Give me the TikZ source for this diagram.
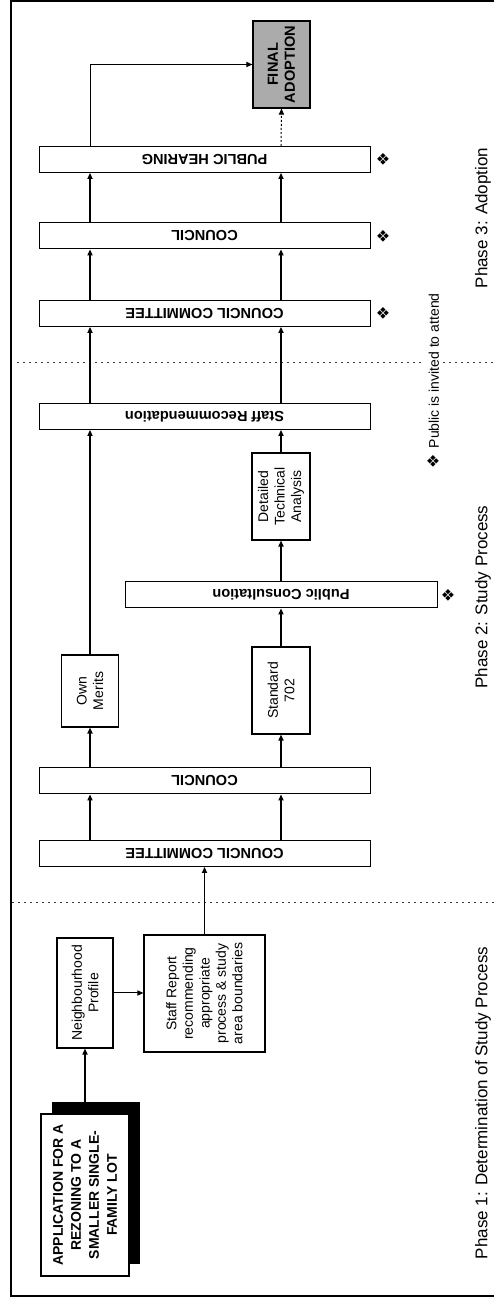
\documentclass[tikz,border=0pt]{standalone}
\usepackage{fontspec}
\setmainfont{Liberation Sans}
\newfontfamily\symfont{DejaVu Sans}
\usetikzlibrary{arrows.meta}
\definecolor{adoptfill}{HTML}{ABABAB}
\definecolor{sepline}{HTML}{3A3A3A}
\tikzset{
  box/.style={draw=black, line width=0.6pt, fill=white, align=center, inner sep=1pt, font=\fontsize{7}{8.25}\selectfont},
  bar/.style={draw=black, line width=0.5pt, fill=white, minimum width=13pt, minimum height=165.5pt, inner sep=0pt},
  barlbl/.style={rotate=90, font=\fontsize{7.3}{8}\selectfont\bfseries, inner sep=0pt},
  appbox/.style={box, minimum width=81pt, minimum height=44pt, font=\fontsize{7}{9}\selectfont\bfseries},
  appshadow/.style={fill=black, minimum width=81pt, minimum height=44pt, inner sep=0pt},
  adoptbox/.style={box, fill=adoptfill, font=\fontsize{7.3}{8.5}\selectfont\bfseries},
  arr/.style={-{Triangle[length=3pt,width=2.6pt]}, line width=0.6pt},
  darr/.style={arr, line width=0.5pt, dash pattern=on 1pt off 1pt},
  phasesep/.style={draw=sepline, line width=0.5pt, dash pattern=on 0.8pt off 2.2pt},
  pageframe/.style={draw=black, line width=0.6pt},
  phaselbl/.style={font=\fontsize{8.5}{10}\selectfont, inner sep=0pt},
  pubmark/.style={font=\symfont\fontsize{8}{8}\selectfont, inner sep=0pt},
  note/.style={font=\fontsize{7}{8}\selectfont, fill=white, inner sep=2pt},
}

\begin{document}
\begin{tikzpicture}[x=0.5pt,y=0.5pt]
  \useasboundingbox (0,0) rectangle (494,1302);
  % landscape chart, turned a quarter onto the page
  \begin{scope}[shift={(494,0)}, rotate=90, transform shape]
  \draw[pageframe] (6,0) -- (6,483) -- (1301,483) -- (1301,0);
  \coordinate (lcol) at (0,404);
  \coordinate (rcol) at (0,213);
  % phase 1
  \node[appshadow] (appsh) at (119,398) {};
  \node[appbox] (app) at (107,409) {APPLICATION FOR A\\REZONING TO A\\SMALLER SINGLE-\\FAMILY LOT};
  \node[box, minimum width=55pt, minimum height=28pt] (nbhd) at (309,409) {Neighbourhood\\Profile};
  \node[box, minimum width=58.5pt, minimum height=60.5pt] (srep) at (308.5,289.5) {Staff Report\\recommending\\appropriate\\process \& study\\area boundaries};
  \draw[arr] (appsh.east |- nbhd.west) -- (nbhd.west);
  \draw[arr, line width=0.5pt] (nbhd.south) -- (nbhd.south |- srep.north);
  \draw[phasesep] (399,482) -- (399,0);
  % phase 2
  \node[bar, label={[barlbl]center:COUNCIL COMMITTEE}] (cc2) at (448.5,289.5) {};
  \node[bar, label={[barlbl]center:COUNCIL}] (c2) at (521,289.5) {};
  \draw[arr] (srep.east) -- (cc2.west |- srep.east);
  \draw[arr] (cc2.east |- lcol) -- (c2.west |- lcol);
  \draw[arr] (cc2.east |- rcol) -- (c2.west |- rcol);
  \node[box, minimum width=36pt, minimum height=28.5pt] (own) at (611,404) {Own\\Merits};
  \node[box, minimum width=43.5pt, minimum height=29pt] (std) at (611.5,213) {Standard\\702};
  \draw[arr] (c2.east |- lcol) -- (own.west);
  \draw[arr] (c2.east |- rcol) -- (std.west);
  \node[bar, minimum height=156pt, label={[barlbl]center:Public Consultation}] (pcons) at (707,213) {};
  \node[pubmark] (pcm) at (707,46) {❖};
  \draw[arr] (std.east) -- (pcons.west);
  \node[box, minimum width=43.5pt, minimum height=29pt] (dta) at (805.5,213) {Detailed\\Technical\\Analysis};
  \draw[arr] (pcons.east) -- (dta.west);
  \node[bar, label={[barlbl]center:Staff Recommendation}] (srec) at (885.5,289.5) {};
  \draw[arr] (own.east) -- (srec.west |- own.east);
  \draw[arr] (dta.east) -- (srec.west |- dta.east);
  \draw[phasesep] (939,477) -- (939,0);
  \node[note] (attend) at (921,61) {{\symfont\fontsize{8}{8}\selectfont ❖}\hspace{3pt}Public is invited to attend};
  % phase 3
  \node[bar, label={[barlbl]center:COUNCIL COMMITTEE}] (cc3) at (988.5,289.5) {};
  \node[bar, label={[barlbl]center:COUNCIL}] (c3) at (1066,289.5) {};
  \node[bar, label={[barlbl]center:PUBLIC HEARING}] (hear) at (1142.5,289.5) {};
  \node[pubmark] (cc3m) at (988.5,111) {❖};
  \node[pubmark] (c3m) at (1066,111) {❖};
  \node[pubmark] (hearm) at (1142.5,111) {❖};
  \draw[arr] (srec.east |- lcol) -- (cc3.west |- lcol);
  \draw[arr] (srec.east |- rcol) -- (cc3.west |- rcol);
  \draw[arr] (cc3.east |- lcol) -- (c3.west |- lcol);
  \draw[arr] (cc3.east |- rcol) -- (c3.west |- rcol);
  \draw[arr] (c3.east |- lcol) -- (hear.west |- lcol);
  \draw[arr] (c3.east |- rcol) -- (hear.west |- rcol);
  \node[adoptbox, minimum width=43.5pt, minimum height=28.5pt] (adopt) at (1237.5,212.5) {FINAL\\ADOPTION};
  \draw[arr, line width=0.5pt] (hear.east |- lcol) -| (adopt.north);
  \draw[darr] (hear.east |- rcol) -- (adopt.west);
  % phase titles
  \node[phaselbl] (ph1) at (199,11) {Phase 1: Determination of Study Process};
  \node[phaselbl] (ph2) at (705,11) {Phase 2: Study Process};
  \node[phaselbl] (ph3) at (1084,11) {Phase 3: Adoption};
  \end{scope}
\end{tikzpicture}
\end{document}
